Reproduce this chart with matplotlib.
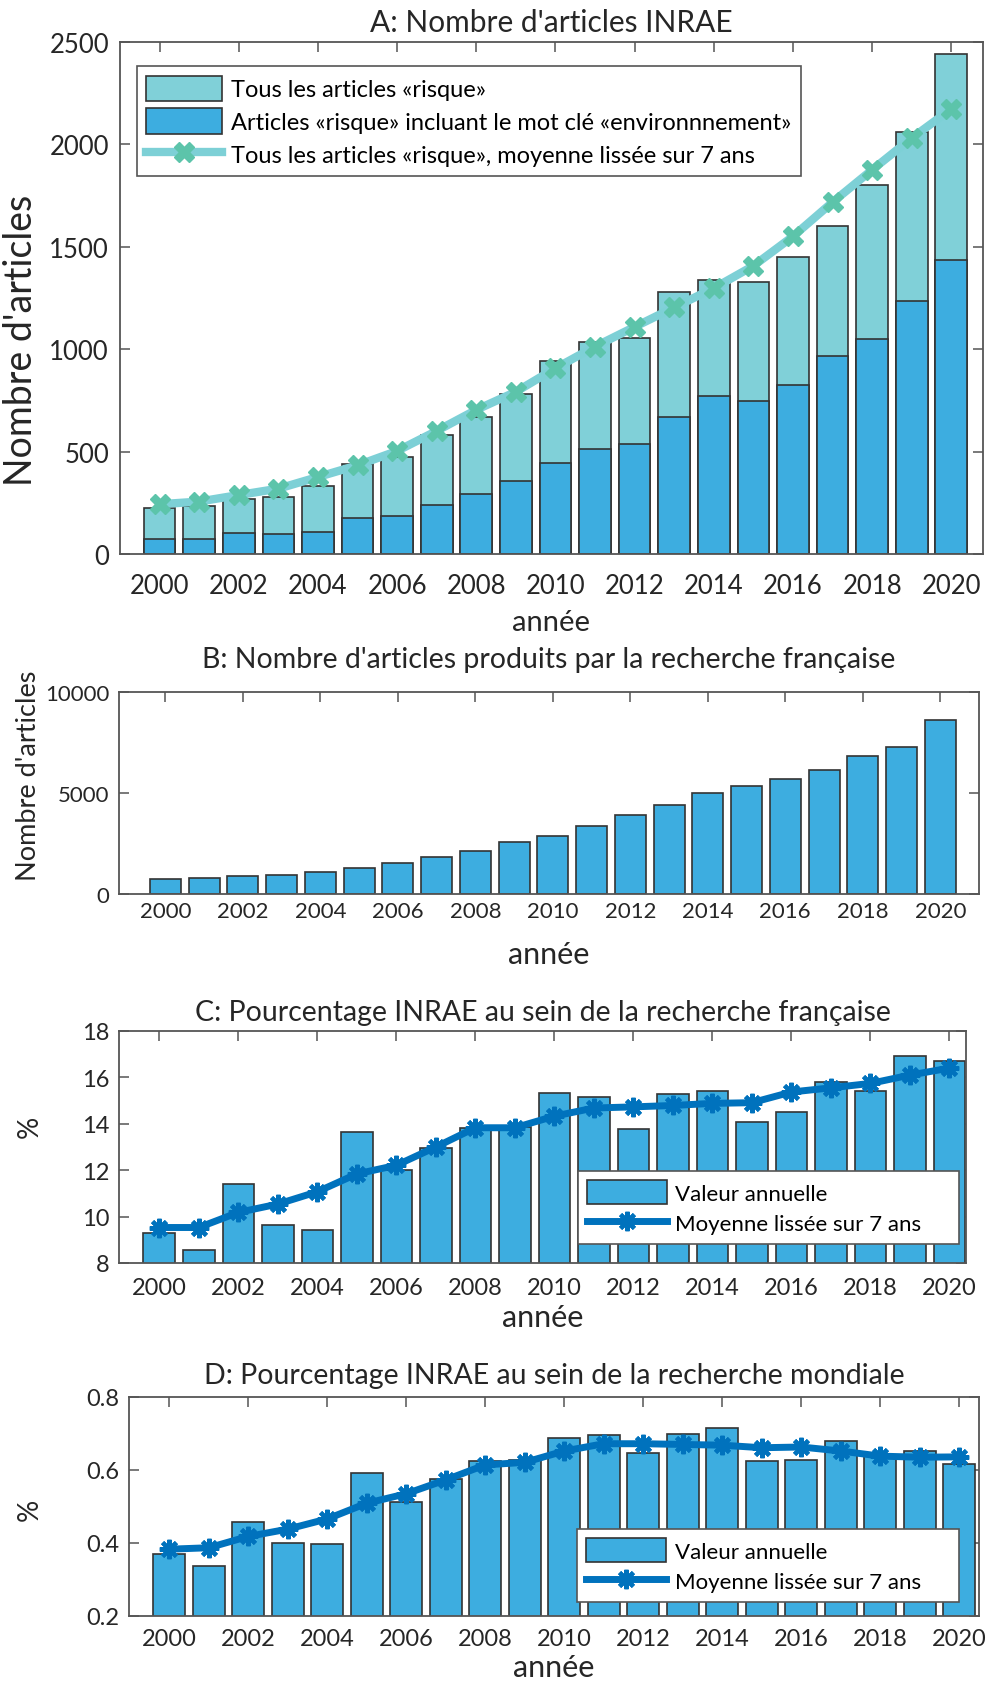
import numpy as np
import matplotlib
matplotlib.use("Agg")
import matplotlib.pyplot as plt

plt.rcParams['font.family'] = ['Lato', 'DejaVu Sans']

annees = list(range(2000, 2021))

# A: articles INRAE "risque"
risque_total = [223, 235, 270, 280, 331, 438, 474, 583, 671, 782, 940, 1037, 1057,
                1279, 1336, 1327, 1451, 1603, 1800, 2062, 2440]
risque_env = [72, 72, 104, 96, 106, 174, 184, 238, 292, 358, 443, 511, 536,
              671, 772, 749, 824, 966, 1052, 1233, 1435]
risque_lisse = [243, 256, 288, 319, 376, 433, 503, 601, 704, 792, 907, 1013, 1109,
                1204, 1298, 1407, 1551, 1718, 1876, 2031, 2173]

# B: recherche française
france_total = [744, 810, 876, 942, 1074, 1273, 1554, 1835, 2116, 2562, 2885, 3372,
                3901, 4397, 5008, 5322, 5702, 6116, 6826, 7273, 8612]

# C: pourcentage INRAE / France
pct_fr = [9.30, 8.56, 11.40, 9.63, 9.43, 13.64, 12.00, 12.94, 13.80, 13.85, 15.34,
          15.17, 13.78, 15.30, 15.41, 14.09, 14.49, 15.81, 15.42, 16.92, 16.69]
pct_fr_lisse = [9.53, 9.53, 10.18, 10.54, 11.07, 11.84, 12.21, 13.00, 13.83, 13.83,
                14.33, 14.68, 14.73, 14.79, 14.88, 14.91, 15.37, 15.55, 15.74, 16.10, 16.40]

# D: pourcentage INRAE / monde
pct_monde = [0.370, 0.338, 0.458, 0.399, 0.396, 0.591, 0.511, 0.574, 0.625, 0.628,
             0.688, 0.695, 0.647, 0.698, 0.714, 0.626, 0.628, 0.680, 0.638, 0.652, 0.617]
pct_monde_lisse = [0.383, 0.387, 0.418, 0.438, 0.466, 0.509, 0.535, 0.573, 0.614, 0.621,
                   0.652, 0.672, 0.672, 0.670, 0.668, 0.661, 0.663, 0.652, 0.638, 0.635, 0.636]

clair = '#80D0D8'
bleu = '#3DADE0'
ligne_bleue = '#0072BD'
txt = '#262626'
bord = '#333333'

W, H = 987, 1690
fig = plt.figure(figsize=(W / 100, H / 100), dpi=100)


def axes_px(left, top, right, bottom):
    return fig.add_axes([left / W, 1 - bottom / H, (right - left) / W, (bottom - top) / H])


def style(ax, tick_size, xpad, ypad):
    for s in ax.spines.values():
        s.set_color('#555555')
        s.set_linewidth(1.3)
    ax.tick_params(direction='in', top=True, right=True, length=7, width=1.1,
                   colors='#555555', labelcolor=txt, labelsize=tick_size)
    ax.tick_params(axis='x', pad=xpad)
    ax.tick_params(axis='y', pad=ypad)
    ax.set_xticks(range(2000, 2021, 2))


def legende(ax, handles, labels, size, hl, **kw):
    leg = ax.legend(handles, labels, fontsize=size, handlelength=hl, handleheight=1.3,
                    borderpad=0.4, labelspacing=0.3, handletextpad=0.4, borderaxespad=0,
                    fancybox=False, framealpha=1, edgecolor='#555555', **kw)
    leg.get_frame().set_linewidth(1.2)


asterisque = (8, 2, 0)
# MATLAB laisse un blanc à droite du texte de la légende
lab_cd = ['Valeur annuelle', 'Moyenne lissée sur 7 ans     ']

# ---- A
ax = axes_px(120, 43, 983, 555)
b1 = ax.bar(annees, risque_total, width=0.8, color=clair, edgecolor=bord, linewidth=1.2, zorder=2)
b2 = ax.bar(annees, risque_env, width=0.8, color=bleu, edgecolor=bord, linewidth=1.2, zorder=2)
l1, = ax.plot(annees, risque_lisse, color='#7DD0D6', lw=6, marker='X', ms=14,
              mfc='#5CC4AA', mec='#5CC4AA', zorder=3)
ax.set_xlim(1999, 2020.8)
ax.set_ylim(0, 2500)
ax.set_yticks([0, 500, 1000, 1500, 2000, 2500])
style(ax, 18.5, 14, 8)
ax.set_title("A: Nombre d'articles INRAE", fontsize=21.5, color=txt, pad=8)
ax.set_xlabel('année', fontsize=21, color=txt)
ax.xaxis.set_label_coords(0.5, -0.107)
ax.set_ylabel("Nombre d'articles", fontsize=27, color=txt)
ax.yaxis.set_label_coords(-0.094, 0.42)
legende(ax, [b1, b2, l1],
        ['Tous les articles «risque»',
         'Articles «risque» incluant le mot clé «environnnement»',
         'Tous les articles «risque», moyenne lissée sur 7 ans'],
        17, 3.2, loc='upper left', bbox_to_anchor=(0.0197, 0.953))

# ---- B
ax = axes_px(119, 693, 979, 895)
ax.bar(annees, france_total, width=0.8, color=bleu, edgecolor=bord, linewidth=1.2, zorder=2)
ax.set_xlim(1998.8, 2021)
ax.set_ylim(0, 10000)
ax.set_yticks([0, 5000, 10000])
style(ax, 16, 5, 7)
ax.set_title("B: Nombre d'articles produits par la recherche française", fontsize=20.5,
             color=txt, pad=18)
ax.set_xlabel('année', fontsize=22, color=txt)
ax.xaxis.set_label_coords(0.5, -0.228)
ax.set_ylabel("Nombre d'articles", fontsize=19.5, color=txt)
ax.yaxis.set_label_coords(-0.091, 0.59)

# ---- C
ax = axes_px(119, 1032, 966, 1264)
b1 = ax.bar(annees, pct_fr, width=0.8, color=bleu, edgecolor=bord, linewidth=1.2, zorder=2)
l1, = ax.plot(annees, pct_fr_lisse, color=ligne_bleue, lw=5, marker=asterisque, ms=14, mew=3,
              mec=ligne_bleue, zorder=3)
ax.set_xlim(1998.98, 2020.42)
ax.set_ylim(8, 18)
ax.set_yticks([8, 10, 12, 14, 16, 18])
style(ax, 17, 10, 7)
ax.set_title('C: Pourcentage INRAE au sein de la recherche française', fontsize=20.5,
             color=txt, pad=8)
ax.set_xlabel('année', fontsize=22, color=txt)
ax.xaxis.set_label_coords(0.5, -0.172)
ax.set_ylabel('%', fontsize=20, color=txt)
ax.yaxis.set_label_coords(-0.09, 0.59)
legende(ax, [b1, l1], lab_cd, 16, 3.6, loc='lower right', bbox_to_anchor=(0.992, 0.082))

# ---- D
ax = axes_px(129, 1398, 979, 1617)
b1 = ax.bar(annees, pct_monde, width=0.8, color=bleu, edgecolor=bord, linewidth=1.2, zorder=2)
l1, = ax.plot(annees, pct_monde_lisse, color=ligne_bleue, lw=5, marker=asterisque, ms=14, mew=3,
              mec=ligne_bleue, zorder=3)
ax.set_xlim(1998.98, 2020.5)
ax.set_ylim(0.2, 0.8)
ax.set_yticks([0.2, 0.4, 0.6, 0.8])
style(ax, 17, 9, 7)
ax.set_title('D: Pourcentage INRAE au sein de la recherche mondiale', fontsize=20.5,
             color=txt, pad=10)
ax.set_xlabel('année', fontsize=22, color=txt)
ax.xaxis.set_label_coords(0.5, -0.168)
ax.set_ylabel('%', fontsize=20, color=txt)
ax.yaxis.set_label_coords(-0.101, 0.49)
legende(ax, [b1, l1], lab_cd, 16, 3.6, loc='lower right', bbox_to_anchor=(0.976, 0.064))

fig.savefig('out.png', dpi=100, facecolor='white')
